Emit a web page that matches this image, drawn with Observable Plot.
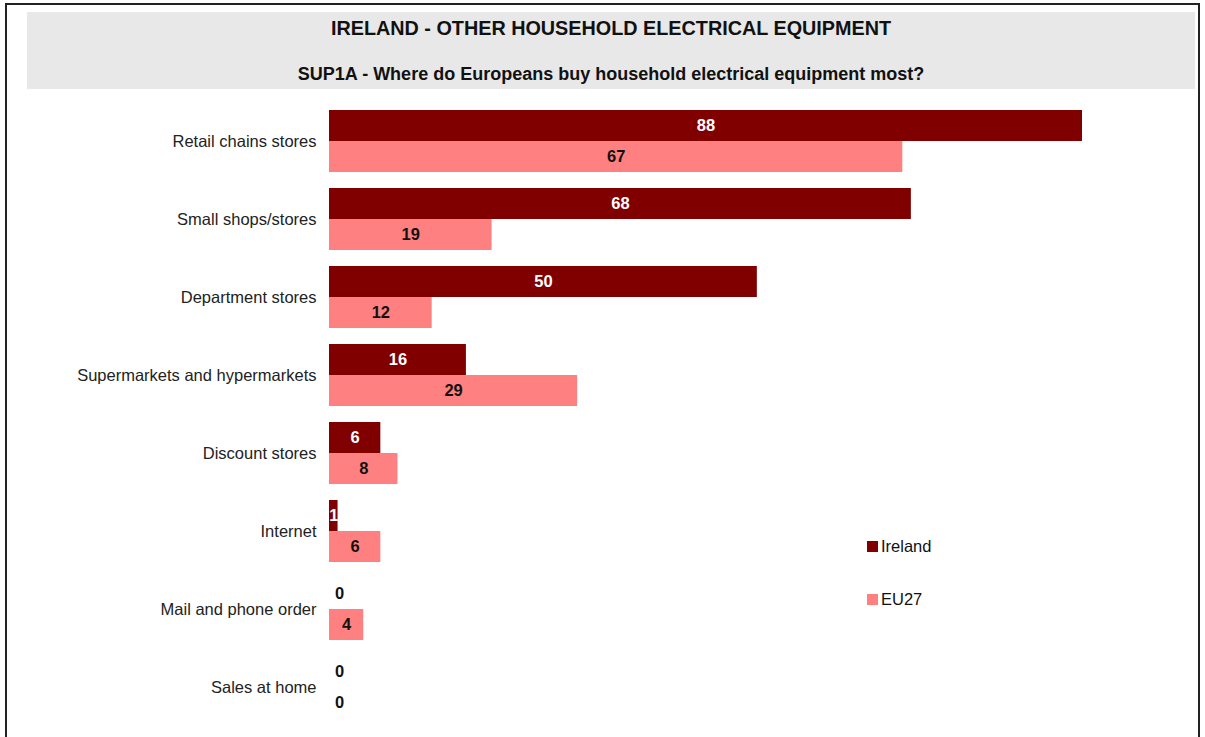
<!DOCTYPE html>
<html>
<head>
<meta charset="utf-8">
<script src="https://cdn.jsdelivr.net/npm/d3@7"></script>
<script src="https://cdn.jsdelivr.net/npm/@observablehq/plot@0.6"></script>
<style>
  html, body { margin: 0; padding: 0; background: #fff; }
  body { width: 1205px; height: 737px; position: relative; overflow: hidden; font-family: "Liberation Sans", Arial, sans-serif; }
  #frame { position: absolute; left: 5px; top: 3px; width: 1195px; height: 800px; border: 2px solid #222; box-sizing: border-box; }
  #titlebox { position: absolute; left: 27px; top: 12px; width: 1168px; height: 77px; background: #e8e8e8; }
  #title { position: absolute; left: 0; right: 0; top: 5px; line-height: 23px; text-align: center; font-weight: bold; font-size: 19.8px; color: #111; }
  #subtitle { position: absolute; left: 0; right: 0; top: 52px; line-height: 20px; text-align: center; font-weight: bold; font-size: 18px; color: #111; }
  #chart { position: absolute; left: 0; top: 94px; }
  .leg { position: absolute; left: 867px; font-size: 16.5px; line-height: 19px; color: #111; display: flex; align-items: center; }
  .sw { width: 11px; height: 11px; margin-right: 3px; display: inline-block; }
</style>
</head>
<body>
<div id="frame"></div>
<div id="titlebox">
  <div id="title">IRELAND - OTHER HOUSEHOLD ELECTRICAL EQUIPMENT</div>
  <div id="subtitle">SUP1A - Where do Europeans buy household electrical equipment most?</div>
</div>
<div id="chart"></div>
<div class="leg" style="top:537px;"><span class="sw" style="background:#800000"></span>Ireland</div>
<div class="leg" style="top:590px;"><span class="sw" style="background:#ff8080"></span>EU27</div>
<script>
const categories = ["Retail chains stores", "Small shops/stores", "Department stores", "Supermarkets and hypermarkets", "Discount stores", "Internet", "Mail and phone order", "Sales at home"];
const series = ["Ireland", "EU27"];
const ireland = [88, 68, 50, 16, 6, 1, 0, 0];
const eu27 = [67, 19, 12, 29, 8, 6, 4, 0];
const colors = ["#800000", "#ff8080"];

const data = [];
categories.forEach((c, i) => {
  data.push({category: c, series: "Ireland", value: ireland[i]});
  data.push({category: c, series: "EU27", value: eu27[i]});
});

const fs = 16.5;
const chart = Plot.plot({
  width: 1205,
  height: 643,
  marginLeft: 329,
  marginRight: 123,
  marginTop: 0,
  marginBottom: 3,
  style: {fontFamily: "'Liberation Sans', Arial, sans-serif", background: "transparent"},
  x: {domain: [0, 88], axis: null},
  y: {domain: series, axis: null, padding: 0},
  fy: {domain: categories, paddingInner: 16 / 78, paddingOuter: 16 / 78, label: null},
  color: {domain: series, range: colors},
  marks: [
    Plot.barX(data, {fy: "category", y: "series", x: "value", fill: "series"}),
    Plot.text(data.filter(d => d.series === "Ireland" && d.value > 0), {fy: "category", y: "series", x: d => d.value / 2, text: d => String(d.value), fill: "white", fontWeight: "bold", fontSize: fs}),
    Plot.text(data.filter(d => d.series === "EU27" && d.value > 0), {fy: "category", y: "series", x: d => d.value / 2, text: d => String(d.value), fill: "#111", fontWeight: "bold", fontSize: fs}),
    Plot.text(data.filter(d => d.value === 0), {fy: "category", y: "series", x: "value", text: d => String(d.value), fill: "#111", fontWeight: "bold", fontSize: fs, dx: 10}),
    Plot.axisFy({anchor: "left", tickSize: 0, tickPadding: 13, fontSize: fs, label: null, color: "#222"})
  ]
});
document.getElementById("chart").appendChild(chart);
</script>
</body>
</html>
